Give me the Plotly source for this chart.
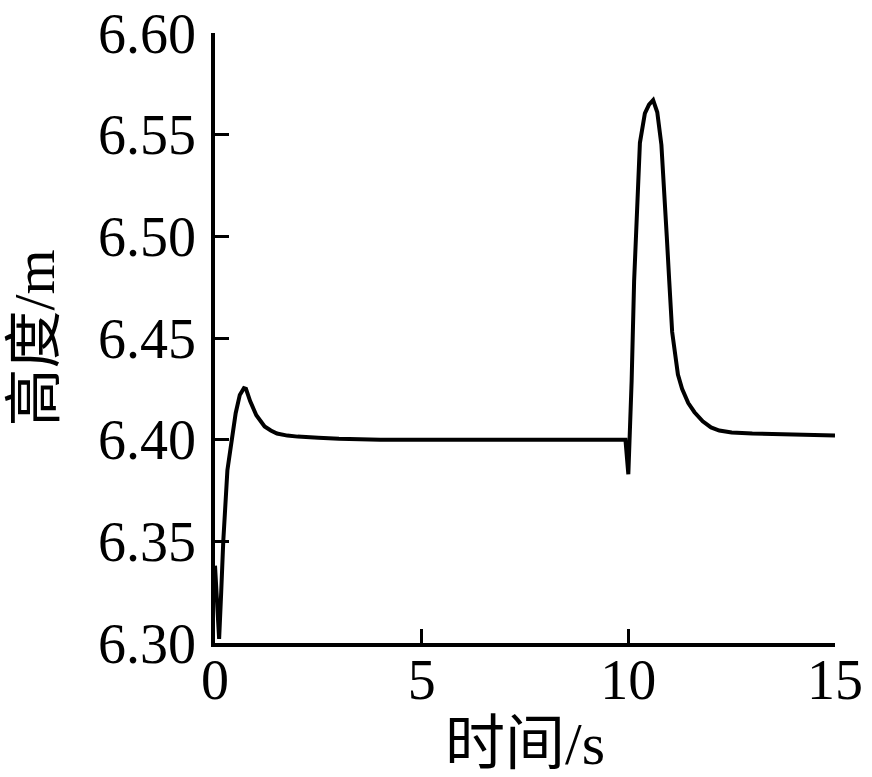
import plotly.graph_objects as go

time_s = [0.0, 0.05, 0.1, 0.15, 0.2, 0.3, 0.4, 0.5, 0.6, 0.7, 0.75, 0.85, 1.0, 1.1, 1.2, 1.35,
          1.5, 1.75, 2.0, 2.5, 3.0, 4.0, 9.93,
          10.0, 10.08, 10.14, 10.24, 10.28, 10.4, 10.5, 10.6, 10.7, 10.8, 10.86, 10.93, 10.99,
          11.06, 11.2, 11.3, 11.45, 11.6, 11.8, 12.0, 12.2, 12.5, 13.0, 14.0, 15.0]
height_m = [6.338, 6.318, 6.302, 6.325, 6.350, 6.385, 6.400, 6.413, 6.422, 6.4253, 6.425, 6.419,
            6.412, 6.409, 6.4065, 6.4045, 6.403, 6.402, 6.4015, 6.401, 6.4005, 6.400, 6.400,
            6.383, 6.429, 6.478, 6.527, 6.546, 6.5605, 6.5648, 6.567, 6.561, 6.545, 6.527, 6.500,
            6.478, 6.453, 6.432, 6.425, 6.418, 6.4135, 6.409, 6.406, 6.4045, 6.4035, 6.403,
            6.4025, 6.402]

x_ticks = [0, 5, 10, 15]
y_ticks = [6.30, 6.35, 6.40, 6.45, 6.50, 6.55, 6.60]

font_fam = "Liberation Serif, Times New Roman, Noto Sans CJK SC, serif"

fig = go.Figure(go.Scatter(x=time_s, y=height_m, mode="lines",
                           line=dict(color="black", width=4), line_shape="linear",
                           hoverinfo="skip", showlegend=False))

fig.update_layout(
    width=872, height=777,
    margin=dict(l=215, r=37, t=33, b=134),
    paper_bgcolor="white", plot_bgcolor="white",
    font=dict(family=font_fam, color="black", size=56),
    xaxis=dict(range=[0, 15], tickvals=x_ticks, ticktext=[str(v) for v in x_ticks],
               showline=True, linecolor="black", linewidth=3.5, mirror=False,
               ticks="inside", ticklen=14, tickwidth=3, tickcolor="black",
               showgrid=False, zeroline=False, automargin=False,
               ticklabelstandoff=-15,
               tickfont=dict(size=56, family=font_fam),
               title=dict(text="时间/s", font=dict(size=60, family=font_fam), standoff=0)),
    yaxis=dict(range=[6.30, 6.60], tickvals=y_ticks, ticktext=[f"{v:.2f}" for v in y_ticks],
               showline=True, linecolor="black", linewidth=3.5, mirror=False,
               ticks="inside", ticklen=14, tickwidth=3, tickcolor="black",
               showgrid=False, zeroline=False, automargin=False,
               ticklabelstandoff=4,
               tickfont=dict(size=56, family=font_fam),
               title=dict(text="高度/m", font=dict(size=58, family=font_fam), standoff=26)),
)

fig.write_html("out.html", config={"displayModeBar": False},
               post_script="document.body.style.margin='0';document.body.style.overflow='hidden';")
